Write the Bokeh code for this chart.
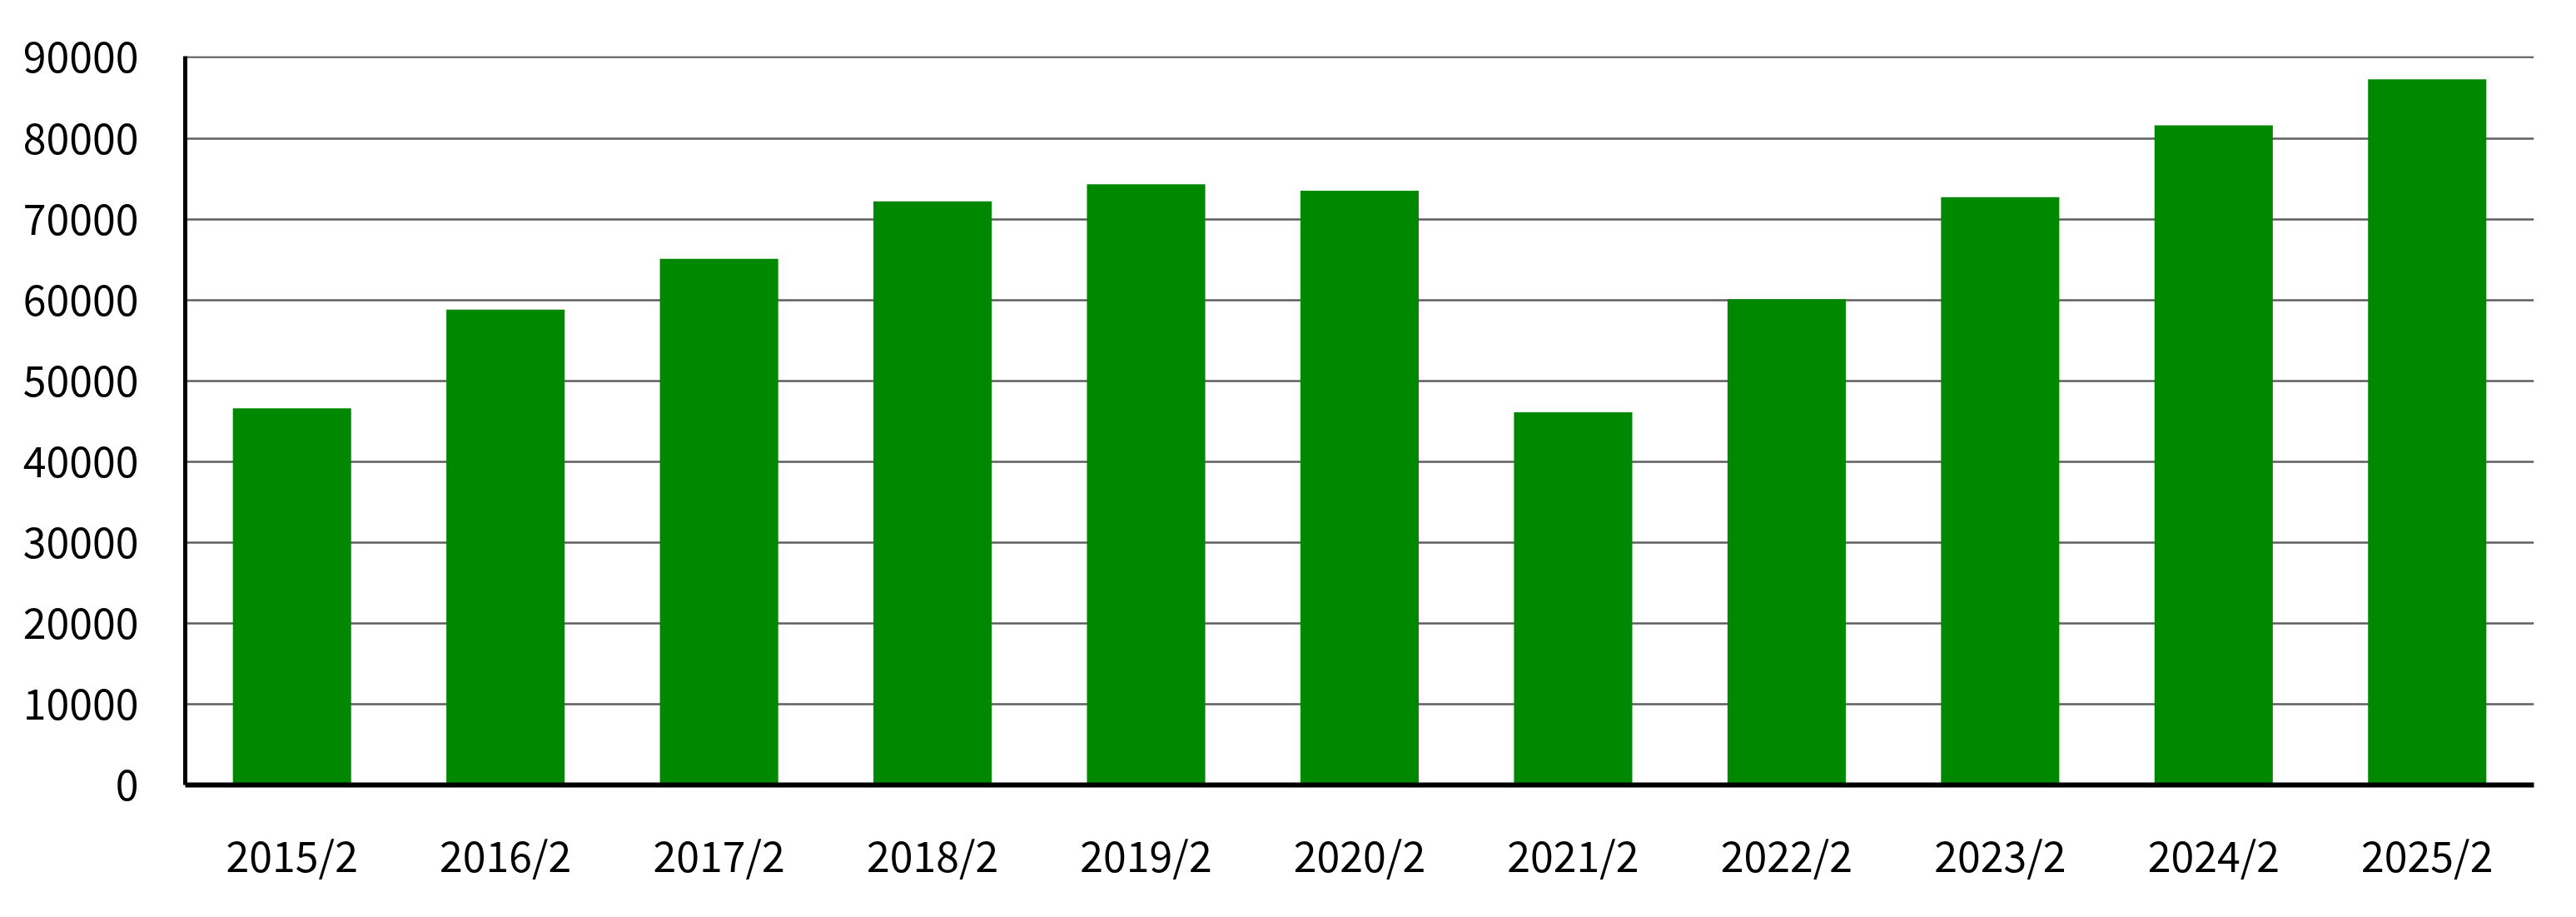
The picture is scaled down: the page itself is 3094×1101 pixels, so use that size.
from bokeh.plotting import figure
from bokeh.models import Range1d, FactorRange, SingleIntervalTicker, ColumnDataSource
from bokeh.embed import file_html
from bokeh.resources import INLINE

categories = ["2015/2", "2016/2", "2017/2", "2018/2", "2019/2", "2020/2",
              "2021/2", "2022/2", "2023/2", "2024/2", "2025/2"]
values = [46600, 58800, 65100, 72200, 74300, 73500,
          46100, 60100, 72700, 81600, 87300]
y_max = 90000
y_step = 10000

FONT = "Noto Sans CJK JP"

src = ColumnDataSource(data=dict(cat=categories, val=values))

p = figure(
    x_range=FactorRange(factors=categories, range_padding=0),
    y_range=Range1d(0, y_max + 150),
    width=3088, height=1090,
    min_border_left=222, min_border_right=45,
    min_border_top=67, min_border_bottom=148,
    output_backend="svg", toolbar_location=None,
)

p.vbar(x="cat", top="val", width=0.554, source=src,
       fill_color="#008800", line_color=None)

p.outline_line_color = None
p.background_fill_color = "white"
p.border_fill_color = "white"

p.xgrid.grid_line_color = None
p.ygrid.grid_line_color = "#5e5e5e"
p.ygrid.grid_line_width = 2.5
p.ygrid.ticker = SingleIntervalTicker(interval=y_step)

p.yaxis.ticker = SingleIntervalTicker(interval=y_step)
p.yaxis.formatter.use_scientific = False
p.yaxis.axis_line_color = "black"
p.yaxis.axis_line_width = 5
p.yaxis.major_tick_line_color = None
p.yaxis.minor_tick_line_color = None
p.yaxis.major_tick_out = 0
p.yaxis.major_tick_in = 0
p.yaxis.major_label_standoff = 52
p.yaxis.major_label_text_font = FONT
p.yaxis.major_label_text_font_size = "50px"
p.yaxis.major_label_text_color = "black"

p.xaxis.axis_line_color = "black"
p.xaxis.axis_line_width = 6
p.xaxis.major_tick_line_color = None
p.xaxis.minor_tick_line_color = None
p.xaxis.major_tick_out = 0
p.xaxis.major_tick_in = 0
p.xaxis.major_label_standoff = 46
p.xaxis.major_label_text_font = FONT
p.xaxis.major_label_text_font_size = "50px"
p.xaxis.major_label_text_color = "black"

open("out.html", "w").write(file_html(p, INLINE))
